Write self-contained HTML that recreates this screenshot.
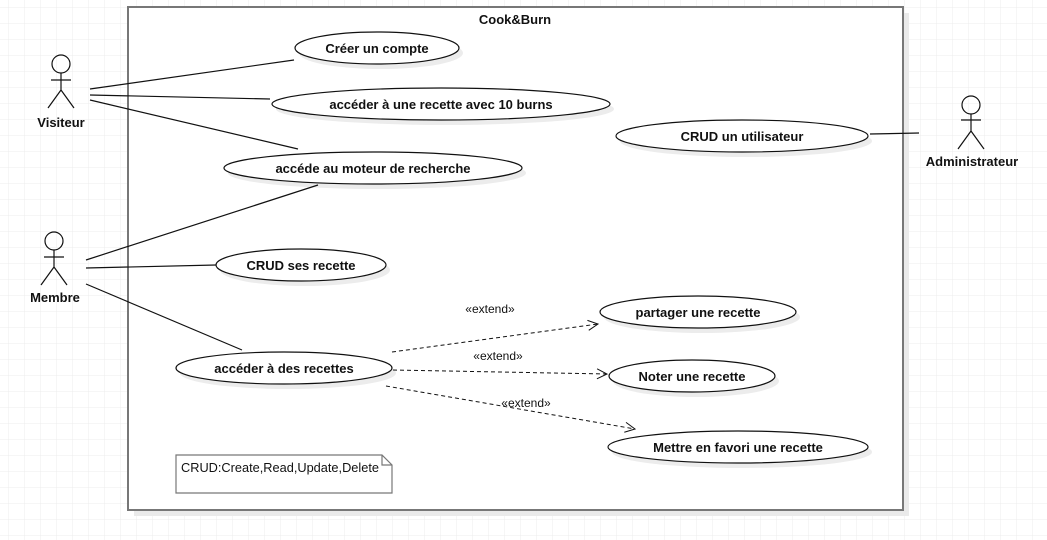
<!DOCTYPE html>
<html><head><meta charset="utf-8"><style>
html,body{margin:0;padding:0;background:#fff}
svg{display:block}
text{font-family:"Liberation Sans",sans-serif;font-size:13px;fill:#111}
.b{font-weight:bold;text-anchor:middle}
</style></head><body>
<svg width="1047" height="540" viewBox="0 0 1047 540" xmlns="http://www.w3.org/2000/svg">
<defs>
<pattern id="g" x="8" y="7" width="16" height="16" patternUnits="userSpaceOnUse">
<path d="M0 0H16M0 0V16" stroke="#ececec" stroke-width="1" fill="none"/>
</pattern>
<marker id="a" viewBox="0 0 12 12" refX="11" refY="6" markerWidth="12" markerHeight="12" markerUnits="userSpaceOnUse" orient="auto">
<path d="M1 1L11 6L1 11" fill="none" stroke="#111" stroke-width="1"/>
</marker>
</defs>
<rect width="1047" height="540" fill="url(#g)"/>
<rect x="134" y="13" width="775" height="503" fill="#eaeaea"/>
<rect x="128" y="7" width="775" height="503" fill="#fff" stroke="#777" stroke-width="2"/>
<text class="b" x="515" y="24">Cook&amp;Burn</text>

<g fill="#ececec">
<ellipse cx="381" cy="53" rx="82" ry="16"/>
<ellipse cx="445" cy="109" rx="169" ry="16"/>
<ellipse cx="377" cy="173" rx="149" ry="16"/>
<ellipse cx="305" cy="270" rx="85" ry="16"/>
<ellipse cx="288" cy="373" rx="108" ry="16"/>
<ellipse cx="746" cy="141" rx="126" ry="16"/>
<ellipse cx="702" cy="317" rx="98" ry="16"/>
<ellipse cx="696" cy="381" rx="83" ry="16"/>
<ellipse cx="742" cy="452" rx="130" ry="16"/>
</g>
<g fill="#fff" stroke="#111" stroke-width="1.2">
<ellipse cx="377" cy="48" rx="82" ry="16"/>
<ellipse cx="441" cy="104" rx="169" ry="16"/>
<ellipse cx="373" cy="168" rx="149" ry="16"/>
<ellipse cx="301" cy="265" rx="85" ry="16"/>
<ellipse cx="284" cy="368" rx="108" ry="16"/>
<ellipse cx="742" cy="136" rx="126" ry="16"/>
<ellipse cx="698" cy="312" rx="98" ry="16"/>
<ellipse cx="692" cy="376" rx="83" ry="16"/>
<ellipse cx="738" cy="447" rx="130" ry="16"/>
</g>
<text class="b" x="377" y="53">Créer un compte</text>
<text class="b" x="441" y="109">accéder à une recette avec 10 burns</text>
<text class="b" x="373" y="173">accéde au moteur de recherche</text>
<text class="b" x="301" y="270">CRUD ses recette</text>
<text class="b" x="284" y="373">accéder à des recettes</text>
<text class="b" x="742" y="141">CRUD un utilisateur</text>
<text class="b" x="698" y="317">partager une recette</text>
<text class="b" x="692" y="381">Noter une recette</text>
<text class="b" x="738" y="452">Mettre en favori une recette</text>

<g stroke="#111" stroke-width="1.2" fill="none">
<line x1="90" y1="89" x2="294" y2="60"/>
<line x1="90" y1="95" x2="270" y2="99"/>
<line x1="90" y1="100" x2="298" y2="149"/>
<line x1="86" y1="260" x2="318" y2="185"/>
<line x1="86" y1="268" x2="216" y2="265"/>
<line x1="86" y1="284" x2="242" y2="350"/>
<line x1="870" y1="134" x2="919" y2="133"/>
<g stroke-dasharray="4,3" stroke-width="1">
<line x1="392" y1="352" x2="598" y2="324" marker-end="url(#a)"/>
<line x1="393" y1="370" x2="607" y2="374" marker-end="url(#a)"/>
<line x1="386" y1="386" x2="635" y2="429" marker-end="url(#a)"/>
</g>
<circle cx="61" cy="64" r="9"/>
<path d="M61 73V90M51 80H71M61 90L48 108M61 90L74 108"/>
<circle cx="54" cy="241" r="9"/>
<path d="M54 250V267M44 257H64M54 267L41 285M54 267L67 285"/>
<circle cx="971" cy="105" r="9"/>
<path d="M971 114V131M961 120H981M971 131L958 149M971 131L984 149"/>
</g>
<text class="b" x="61" y="127">Visiteur</text>
<text class="b" x="55" y="302">Membre</text>
<text class="b" x="972" y="166">Administrateur</text>
<text x="490" y="313" style="text-anchor:middle;font-size:12px">«extend»</text>
<text x="498" y="360" style="text-anchor:middle;font-size:12px">«extend»</text>
<text x="526" y="407" style="text-anchor:middle;font-size:12px">«extend»</text>

<path d="M176 455H382L392 465V493H176Z M382 455V465H392" fill="#fff" stroke="#777" stroke-width="1.2"/>
<text x="181" y="472" style="font-size:13px" textLength="198" lengthAdjust="spacingAndGlyphs">CRUD:Create,Read,Update,Delete</text>
</svg>
</body></html>
